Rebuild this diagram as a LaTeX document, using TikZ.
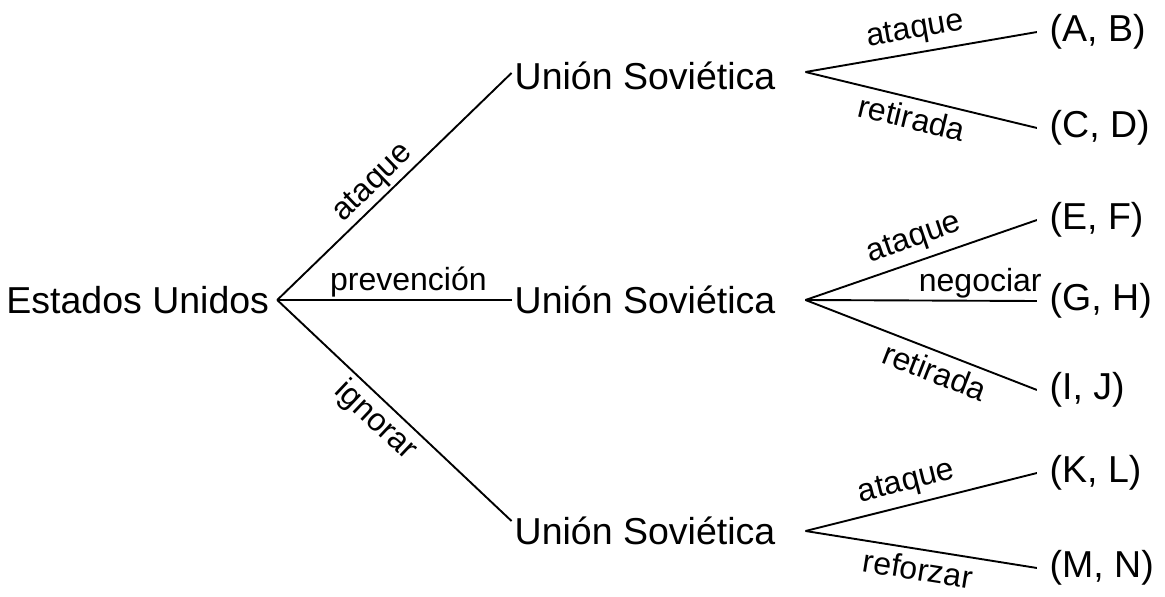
\documentclass[tikz,border=0pt]{standalone}
\usepackage{fontspec}
\setmainfont{Liberation Sans}
\usetikzlibrary{backgrounds}
\newcommand{\playerfont}{\fontsize{37.5}{45}\selectfont}
\newcommand{\movefont}{\fontsize{32}{38}\selectfont}

\begin{document}
\begin{tikzpicture}[x=1pt,y=-1pt,
  player/.style={font=\playerfont,inner xsep=3pt,inner ysep=0pt},
  payoff/.style={font=\playerfont,anchor=west,inner xsep=12.5pt,fill=white},
  move/.style={font=\movefont,inner sep=2pt,text height=23pt,text depth=6.7pt},
  farmove/.style={move,inner sep=7pt},
  branch/.style={line width=1.9pt}]
  \useasboundingbox (0,0) rectangle (1165,597);
  % players
  \node[player,inner xsep=8pt] (us) at (137.7,300) {Estados Unidos};
  \node[player] (su1) at (645,76) {Unión Soviética};
  \node[player] (su2) at (645,300) {Unión Soviética};
  \node[player] (su3) at (645,531) {Unión Soviética};
  \coordinate (d1) at ([xshift=27pt,yshift=4pt]su1.east);
  \coordinate (d2) at ([xshift=27pt]su2.east);
  \coordinate (d3) at ([xshift=27pt]su3.east);
  % payoffs
  \node[payoff] (ab) at (1037,32) {(A, B)};
  \node[payoff] (cd) at (1037,128) {(C, D)};
  \node[payoff] (ef) at (1037,220) {(E, F)};
  \node[payoff] (gh) at (1037,301) {(G, H)};
  \node[payoff] (ij) at (1037,390) {(I, J)};
  \node[payoff] (kl) at (1037,473) {(K, L)};
  \node[payoff] (mn) at (1037,568) {(M, N)};
  \begin{scope}[on background layer]
    % first move
    \draw[branch] (us.east) -- ([yshift=3pt]su1.west) node[move,pos=0.46,above,sloped] {ataque};
    \draw[branch] (us.east) -- (su2.west) node[move,pos=0.56,above] {prevención};
    \draw[branch] (us.east) -- ([yshift=10pt]su3.west) node[move,inner sep=5pt,pos=0.48,below,sloped] {ignorar};
    % replies
    \draw[branch] (d1) -- (ab.west) node[farmove,pos=0.49,above,sloped] {ataque};
    \draw[branch] (d1) -- (cd.west) node[farmove,pos=0.48,below,sloped] {retirada};
    \draw[branch] (d2) -- (ef.west) node[farmove,pos=0.50,above,sloped] {ataque};
    \draw[branch] (d2) -- (gh.west) node[move,pos=0.755,above] {negociar};
    \draw[branch] (d2) -- (ij.west) node[farmove,pos=0.59,below,sloped] {retirada};
    \draw[branch] (d3) -- (kl.west) node[farmove,pos=0.46,above,sloped] {ataque};
    \draw[branch] (d3) -- (mn.west) node[farmove,pos=0.50,below,sloped] {reforzar};
  \end{scope}
\end{tikzpicture}
\end{document}
